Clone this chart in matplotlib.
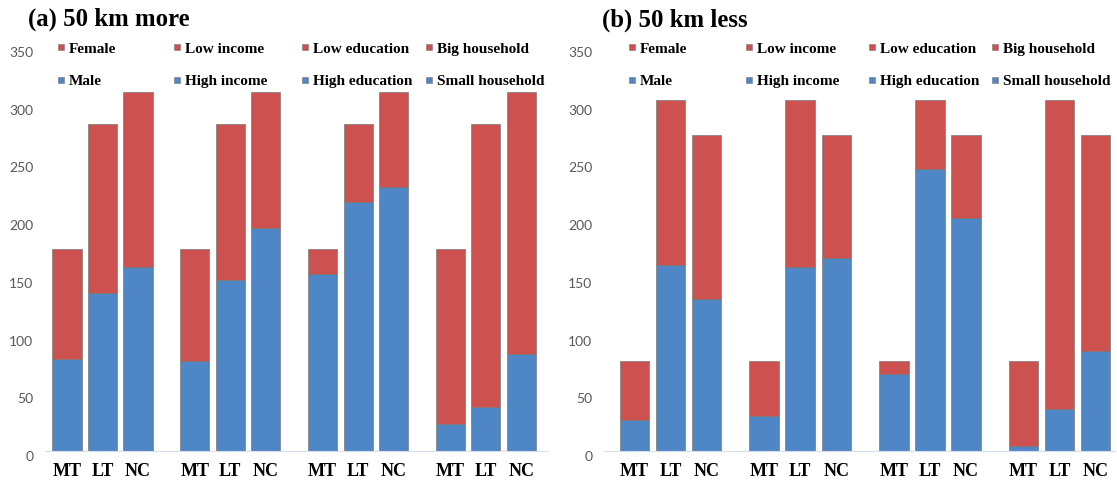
import matplotlib
matplotlib.use("Agg")
import matplotlib.pyplot as plt
from matplotlib.lines import Line2D
from matplotlib.transforms import ScaledTranslation
import numpy as np

# tenure groups shown under every block of bars
tenure = ["MT", "LT", "NC"]

# (a) trips of 50 km or more -- lower (blue) and upper (red) stack per block
more_male = [80, 137, 159]
more_female = [95, 146, 152]
more_high_income = [78, 148, 193]
more_low_income = [97, 135, 118]
more_high_edu = [153, 216, 229]
more_low_edu = [22, 67, 82]
more_small_hh = [23, 38, 84]
more_big_hh = [152, 245, 227]

# (b) trips of less than 50 km
less_male = [27, 161, 132]
less_female = [51, 143, 142]
less_high_income = [30, 159, 167]
less_low_income = [48, 145, 107]
less_high_edu = [67, 244, 202]
less_low_edu = [11, 60, 72]
less_small_hh = [4, 36, 87]
less_big_hh = [74, 268, 187]

red_names = ["Female", "Low income", "Low education", "Big household"]
blue_names = ["Male", "High income", "High education", "Small household"]

RED = "#CD514E"
BLUE = "#4F86C6"
EDGE = "#7a7a7a"
SERIF = ["Liberation Serif", "DejaVu Serif"]

W, H = 1117, 482
fig = plt.figure(figsize=(W / 100, H / 100), dpi=100)


def px_axes(left, top, right, bottom):
    return fig.add_axes([left / W, 1 - bottom / H, (right - left) / W, (bottom - top) / H])


def draw_panel(ax, blues, reds, xlim, legend_x, title, title_xy):
    step = 3.6
    xs_all, labels = [], []
    for g, (b, r) in enumerate(zip(blues, reds)):
        xs = g * step + np.arange(len(tenure))
        ax.bar(xs, b, width=0.82, color=BLUE, edgecolor=EDGE, linewidth=0.5)
        ax.bar(xs, r, bottom=b, width=0.82, color=RED, edgecolor=EDGE, linewidth=0.5)
        xs_all.extend(xs)
        labels.extend(tenure)

    ax.set_xlim(*xlim)
    ax.set_ylim(0, 350)
    ax.set_yticks(range(0, 351, 50))
    ax.set_xticks(xs_all)
    ax.set_xticklabels(labels, fontfamily=SERIF, fontweight="bold", fontsize=13)
    ax.tick_params(axis="x", length=0, pad=8.5)
    ax.tick_params(axis="y", length=0, pad=8.5, labelsize=10, labelcolor="#595959")
    for lab in ax.get_yticklabels():
        lab.set_fontfamily("Lato")
        lab.set_transform(lab.get_transform() + ScaledTranslation(0, -0.05, fig.dpi_scale_trans))
    for side in ["top", "right", "left"]:
        ax.spines[side].set_visible(False)
    ax.spines["bottom"].set_color("#d5deea")
    ax.spines["bottom"].set_linewidth(0.8)

    # one two-row legend column per characteristic
    for i, (rn, bn) in enumerate(zip(red_names, blue_names)):
        handles = [
            Line2D([], [], marker="s", linestyle="none", markersize=4.8,
                   markerfacecolor=c, markeredgecolor=EDGE, markeredgewidth=0.4)
            for c in (RED, BLUE)
        ]
        leg = ax.legend(handles, [rn, bn], loc="upper left",
                        bbox_to_anchor=(legend_x[i], 1.012),
                        bbox_transform=ax.transAxes, frameon=False,
                        prop={"family": SERIF, "weight": "bold", "size": 11},
                        handlelength=0.6, handletextpad=0.25, labelspacing=1.2,
                        borderpad=0, borderaxespad=0)
        if i < len(red_names) - 1:
            ax.add_artist(leg)

    fig.text(title_xy[0] / W, 1 - title_xy[1] / H, title, fontfamily=SERIF,
             fontweight="bold", fontsize=17.8, va="center", ha="left")


ax_a = px_axes(45, 47, 548, 451)
draw_panel(
    ax_a,
    [more_male, more_high_income, more_high_edu, more_small_hh],
    [more_female, more_low_income, more_low_edu, more_big_hh],
    (-0.62, 13.55),
    [(56 - 45) / 503, (172 - 45) / 503, (300 - 45) / 503, (424 - 45) / 503],
    "(a) 50 km more",
    (28, 19),
)

ax_b = px_axes(604, 47, 1115, 451)
draw_panel(
    ax_b,
    [less_male, less_high_income, less_high_edu, less_small_hh],
    [less_female, less_low_income, less_low_edu, less_big_hh],
    (-0.85, 13.34),
    [(627 - 604) / 511, (744 - 604) / 511, (867 - 604) / 511, (990 - 604) / 511],
    "(b) 50 km less",
    (602, 20),
)

fig.savefig("out.png", dpi=100, facecolor="white")
